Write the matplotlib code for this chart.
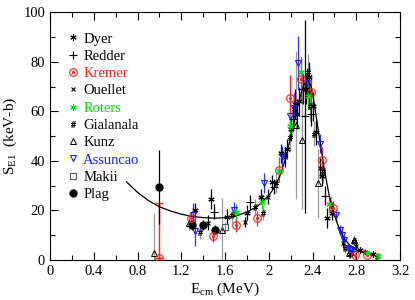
import matplotlib
matplotlib.use("Agg")
import matplotlib.pyplot as plt
import numpy as np

plt.rcParams['font.family'] = ['Liberation Serif', 'DejaVu Serif']
plt.rcParams['mathtext.fontset'] = 'custom'
plt.rcParams['mathtext.rm'] = 'Liberation Serif'
plt.rcParams['mathtext.it'] = 'Liberation Serif:italic'

# ---- fit curve ----
fit_x = [0.70, 0.80, 0.90, 1.00, 1.10, 1.20, 1.30, 1.40, 1.50, 1.60, 1.70, 1.80, 1.90,
         2.00, 2.05, 2.10, 2.15, 2.20, 2.25, 2.30, 2.33, 2.36, 2.38, 2.40, 2.43, 2.46,
         2.50, 2.55, 2.60, 2.65, 2.70, 2.75, 2.80, 2.85, 2.90, 2.95, 3.00]
fit_y = [31.5, 27.3, 24.0, 21.5, 19.8, 18.5, 17.6, 17.1, 16.9, 17.1, 17.8, 19.3, 21.8,
         26.0, 29.3, 33.8, 40.5, 49.5, 59.5, 68.0, 71.5, 72.5, 71.0, 67.5, 59.0, 50.0,
         38.5, 26.5, 18.0, 12.0, 8.0, 5.6, 4.0, 3.2, 2.6, 2.0, 1.5]

# ---- Dyer (*) ----
dyer_x = [1.33, 1.47, 1.62, 1.80, 1.93, 2.03, 2.11, 2.17, 2.20, 2.24, 2.28, 2.34, 2.37,
          2.40, 2.43, 2.49, 2.53, 2.58, 2.74, 2.83, 2.95]
dyer_y = [20.0, 24.5, 17.5, 19.0, 25.5, 31.5, 43.0, 45.0, 53.0, 63.0, 64.0, 69.0, 74.0,
          62.0, 51.5, 34.0, 17.0, 19.0, 2.5, 4.2, 2.6]
dyer_e = [3, 4, 3, 3, 3, 3, 4, 4, 5, 6, 6, 6, 6, 6, 5, 4, 4, 3, 1.5, 1, 1]

# ---- Redder (+) ----
redder_x = [1.50, 1.83, 2.05, 2.22, 2.31, 2.33, 2.39, 2.51, 2.77]
redder_y = [19.5, 23.3, 29.5, 57.0, 69.0, 58.0, 59.0, 26.0, 3.5]
redder_e = [3, 3, 3, 5, 6, 39, 5, 4, 1.5]

# ---- Kremer (red circles) ----
kremer_x = [1.00, 1.29, 1.49, 1.70, 1.89, 2.09, 2.19, 2.29, 2.39, 2.49, 2.59, 2.79, 2.90]
kremer_y = [1.0, 17.0, 9.7, 14.3, 16.8, 36.5, 65.5, 73.0, 68.0, 40.5, 20.8, 2.0, 2.0]
kremer_lo = [1.0, 2.5, 2.5, 3.0, 3.0, 5.0, 9.0, 9.0, 7.0, 5.0, 3.0, 1.0, 0.7]
kremer_hi = [22.0, 2.5, 2.5, 3.0, 3.0, 5.0, 9.0, 9.0, 7.0, 5.0, 3.0, 1.0, 0.7]

# ---- Ouellet (x) ----
ouellet_x = [1.44, 1.78, 1.99, 2.15, 2.26, 2.37, 2.47, 2.68, 2.80, 2.88]
ouellet_y = [15.0, 15.2, 25.5, 41.5, 59.0, 68.0, 37.0, 7.0, 5.5, 3.4]
ouellet_e = [3, 2, 3, 4, 6, 6, 4, 2, 1.5, 1]

# ---- Roters (green *) ----
roters_x = [1.70, 1.94, 2.09, 2.19, 2.29, 2.36, 2.55, 2.90, 3.00]
roters_y = [19.5, 23.5, 36.0, 54.0, 76.0, 66.0, 22.5, 3.0, 1.8]
roters_e = [3, 3, 3, 4, 5, 5, 3, 0.8, 0.6]

# ---- Gialanala (#) ----
gial_x = [1.37, 1.66, 1.87, 1.95, 2.07, 2.19, 2.23, 2.36, 2.38, 2.41, 2.50, 2.57,
          2.70, 2.78, 2.99]
gial_y = [11.5, 18.0, 21.5, 19.0, 31.0, 49.5, 61.0, 76.0, 62.0, 51.0, 36.0, 22.0,
          5.0, 7.5, 1.2]
gial_e = [3, 3, 3, 3, 4, 6, 7, 7, 6, 5, 5, 4, 2, 2, 0.8]

# ---- Kunz (open triangles) ----
kunz_x = [0.95, 1.27, 1.57, 2.25, 2.30, 2.45, 2.73, 2.78]
kunz_y = [3.0, 15.0, 12.0, 54.5, 48.5, 31.0, 3.0, 8.0]
kunz_e = [16.0, 3.0, 13.0, 30.0, 28.0, 14.0, 2.0, 2.0]

# ---- Assuncao (blue down triangles) ----
assu_x = [1.31, 1.33, 1.68, 1.96, 2.12, 2.19, 2.23, 2.27, 2.35, 2.47, 2.61,
          2.65, 2.67, 2.69, 2.72, 2.74, 2.76]
assu_y = [18.0, 11.8, 20.3, 31.0, 42.0, 58.0, 61.5, 79.5, 71.5, 47.0, 18.0,
          12.0, 10.0, 8.0, 5.0, 4.5, 4.0]
assu_e = [5.0, 6.0, 3.0, 4.0, 4.0, 6.0, 6.0, 11.0, 6.0, 4.0, 2.5,
          2.0, 2.0, 2.0, 1.5, 1.5, 1.5]

# ---- Makii (gray squares) ----
makii_x = [1.60]
makii_y = [13.5]
makii_e = [2.0]

# ---- Plag (filled circles) ----
plag_x = [1.00, 1.30, 1.40, 1.51]
plag_y = [29.5, 14.1, 14.1, 12.3]
plag_e = [15.0, 2.0, 2.0, 2.0]

fig = plt.figure(figsize=(4.15, 3.0), dpi=100)
ax = fig.add_axes([0.1205, 0.1333, 0.8435, 0.826])

gray = '#9a9a9a'
ekw = dict(elinewidth=0.9, capsize=0, linestyle='none')

ax.plot(fit_x, fit_y, color='black', lw=0.9, zorder=5)

ax.errorbar(kunz_x, kunz_y, yerr=kunz_e, ecolor=gray, **ekw, zorder=1, fmt='none')
h_kunz, = ax.plot(kunz_x, kunz_y, ls='none', marker='^', ms=4.0, mfc='none',
                  mec='black', mew=0.7, zorder=6)
ax.errorbar(gial_x, gial_y, yerr=gial_e, ecolor=gray, fmt='none', **ekw, zorder=2)
h_gial, = ax.plot(gial_x, gial_y, ls='none', marker='$\\#$', ms=4.5, color='black',
                  mew=0.3, zorder=6)
ax.errorbar(dyer_x, dyer_y, yerr=dyer_e, ecolor='black', fmt='none', **ekw, zorder=3)
h_dyer, = ax.plot(dyer_x, dyer_y, ls='none', marker=(6, 2, 0), ms=4.5, color='black',
                  mew=0.8, zorder=6)
ax.errorbar(redder_x, redder_y, yerr=redder_e, ecolor='black', fmt='none', **ekw, zorder=3)
h_redder, = ax.plot(redder_x, redder_y, ls='none', marker='+', ms=5.5, color='black',
                    mew=0.8, zorder=6)
ax.errorbar(ouellet_x, ouellet_y, yerr=ouellet_e, ecolor='black', fmt='none', **ekw, zorder=3)
h_ouel, = ax.plot(ouellet_x, ouellet_y, ls='none', marker='x', ms=3.5, color='black',
                  mew=0.8, zorder=6)
ax.errorbar(assu_x, assu_y, yerr=assu_e, ecolor='#3030ff', fmt='none', **ekw, zorder=3)
h_assu, = ax.plot(assu_x, assu_y, ls='none', marker='v', ms=4.5, mfc='none', mec='#1a1aff',
                  mew=0.8, zorder=6)
ax.errorbar(kremer_x, kremer_y, yerr=[kremer_lo, kremer_hi], ecolor='#ff2020',
            fmt='none', elinewidth=0.9, capsize=0, zorder=3)
ax.errorbar([kremer_x[0]], [kremer_y[0]], yerr=[[0], [kremer_hi[0]]], ecolor='#ff2020',
            fmt='none', elinewidth=0.9, capsize=3, zorder=3)
h_krem, = ax.plot(kremer_x, kremer_y, ls='none', marker='o', ms=5.5, mfc='none',
                  mec='#ff2020', mew=0.8, zorder=7)
h_krem2, = ax.plot(kremer_x, kremer_y, ls='none', marker='o', ms=1.3, color='#ff2020', zorder=7)
ax.errorbar(roters_x, roters_y, yerr=roters_e, ecolor='#00dd00', fmt='none', **ekw, zorder=4)
h_rot, = ax.plot(roters_x, roters_y, ls='none', marker=(6, 2, 0), ms=4.5, color='#00e000',
                 mew=0.8, zorder=8)
ax.errorbar(makii_x, makii_y, yerr=makii_e, ecolor=gray, fmt='none', **ekw, zorder=3)
h_mak, = ax.plot(makii_x, makii_y, ls='none', marker='s', ms=4.5, mfc='none', mec='#555555',
                 mew=0.8, zorder=6)
ax.errorbar(plag_x, plag_y, yerr=plag_e, ecolor='black', fmt='none', **ekw, zorder=3)
h_plag, = ax.plot(plag_x, plag_y, ls='none', marker='o', ms=5.0, color='black', zorder=6)

ax.set_xlim(0, 3.2)
ax.set_ylim(0, 100)
ax.set_xticks(np.arange(0, 3.21, 0.4))
ax.set_xticklabels(['0', '0.4', '0.8', '1.2', '1.6', '2', '2.4', '2.8', '3.2'])
ax.set_xticks(np.arange(0, 3.21, 0.2), minor=True)
ax.set_yticks(np.arange(0, 101, 20))
ax.set_yticks(np.arange(0, 101, 10), minor=True)
ax.tick_params(which='both', direction='in', top=True, right=True, labelsize=10.5, width=0.8)
ax.tick_params(which='major', length=6)
ax.tick_params(which='minor', length=3.5)
for s in ax.spines.values():
    s.set_linewidth(0.8)

ax.set_xlabel('E$_{\\rm cm}$ (MeV)', fontsize=11, labelpad=2)
ax.set_ylabel('S$_{\\rm E1}$  (keV-b)', fontsize=11, labelpad=3)

handles = [h_dyer, h_redder, (h_krem, h_krem2), h_ouel, h_rot, h_gial, h_kunz, h_assu,
           h_mak, h_plag]
labels = ['Dyer', 'Redder', 'Kremer', 'Ouellet', 'Roters', 'Gialanala', 'Kunz',
          'Assuncao', 'Makii', 'Plag']
colors = ['black', 'black', '#ff2020', 'black', '#00dd00', 'black', 'black', '#1a1aff',
          'black', 'black']
leg = ax.legend(handles, labels, loc='upper left', bbox_to_anchor=(0.02, 0.96),
                frameon=False, fontsize=10.5, handlelength=0.8, handletextpad=0.3,
                labelspacing=0.28, borderaxespad=0.3)
for t, c in zip(leg.get_texts(), colors):
    t.set_color(c)

fig.savefig('out.png', dpi=100)
